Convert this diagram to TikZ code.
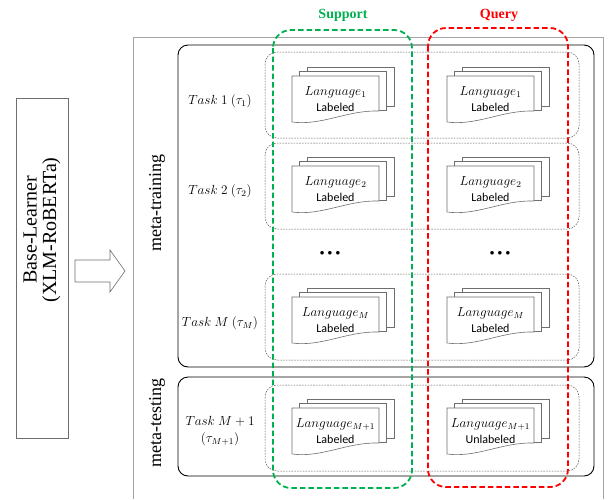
\documentclass[tikz,border=0pt]{standalone}
\usepackage{graphicx}
\usepackage{fontspec}
\setmainfont{Liberation Serif}
\newfontfamily\labfont{Carlito}
\usetikzlibrary{positioning}
\definecolor{supgreen}{RGB}{0,176,80}
\definecolor{qred}{RGB}{255,0,0}
\definecolor{framegray}{RGB}{165,165,165}
\definecolor{docgray}{RGB}{110,110,110}
\newcommand{\mbig}[1]{\scalebox{1.1}{\fontsize{12}{14}\selectfont #1}}
\tikzset{
  frameline/.style={draw=framegray, line width=0.8pt},
  phasebox/.style={draw=black, line width=0.9pt, rounded corners=10pt},
  taskrow/.style={draw=black!65, line width=0.5pt, dash pattern=on 1.6pt off 1.2pt, rounded corners=12pt},
  docline/.style={draw=docgray, line width=0.6pt, fill=white},
  setbox/.style={line width=1.8pt, dash pattern=on 5.5pt off 3pt, rounded corners=18pt},
  tasklabel/.style={align=center},
  langtext/.style={},
  labtext/.style={font=\labfont\fontsize{12}{14}\selectfont},
  phaselabel/.style={font=\fontsize{18}{20}\selectfont, rotate=90},
  setlabel/.style={font=\bfseries\fontsize{14}{16}\selectfont},
}
\newcommand{\docstack}[5]{% #1 name, #2 x, #3 y, #4 subscript, #5 label
  \begin{scope}[shift={(#2,#3)}]
    \draw[docline] (15,-9) rectangle (102,30);
    \draw[docline] (7.5,-4.5) rectangle (94.5,34.5);
    \draw[docline] (0,0) -- (87,0) -- (87,35) .. controls (55,34) and (30,50) .. (0,46) -- cycle;
    \node[langtext] (#1lang) at (43.5,16) {\mbig{$Language_{#4}$}};
    \node[labtext] (#1lab) at (43.5,31) {#5};
  \end{scope}
}
\begin{document}
\begin{tikzpicture}[x=1pt,y=-1pt]
\useasboundingbox (0,0) rectangle (608,499);
% outer frame
\draw[frameline] (133,499) -- (133,37) -- (603,37) -- (603,499);
% base learner
\node[draw=docgray, line width=0.6pt, minimum width=52pt, minimum height=340pt, inner sep=0pt] (base) at (42,268) {};
\node[rotate=90, align=center, font=\fontsize{20}{19.5}\selectfont] (basetext) at (42,230) {Base-Learner\\(XLM-RoBERTa)};
% arrow
\draw[draw=docgray, line width=0.6pt, fill=white] (75,260) -- (110,260) -- (110,250) -- (125,271) -- (110,292) -- (110,282) -- (75,282) -- cycle;
% phase boxes
\draw[phasebox] (178,45) rectangle (594,367);
\draw[phasebox] (178,377) rectangle (594,476);
\node[phaselabel] (mtrain) at (157,203) {meta-training};
\node[phaselabel] (mtest) at (157,423) {meta-testing};
% task rows
\draw[taskrow] (265,52) rectangle (579,138);
\draw[taskrow] (265,143) rectangle (579,229);
\draw[taskrow] (265,274) rectangle (579,360);
\draw[taskrow] (265,385) rectangle (579,471);
% task labels
\node[tasklabel] (t1) at (220,101) {\mbig{$Task\ 1\ (\tau_1)$}};
\node[tasklabel] (t2) at (220,191) {\mbig{$Task\ 2\ (\tau_2)$}};
\node[tasklabel] (tm) at (220,323) {\mbig{$Task\ M\ (\tau_M)$}};
\node[tasklabel] (tm1) at (220,431) {\mbig{$Task\ M+1$}\\[5pt]\mbig{$(\tau_{M+1})$}};
% documents
\docstack{s1}{292}{76}{1}{Labeled}
\docstack{q1}{447}{76}{1}{Labeled}
\docstack{s2}{292}{166}{2}{Labeled}
\docstack{q2}{447}{166}{2}{Labeled}
\docstack{sm}{292}{297}{M}{Labeled}
\docstack{qm}{447}{297}{M}{Labeled}
\docstack{sm1}{292}{408}{M+1}{Labeled}
\docstack{qm1}{447}{408}{M+1}{Unlabeled}
% dots
\node[font=\small] (sdots) at (330,253) {$\bullet\hspace{1.2pt}\bullet\hspace{1.2pt}\bullet$};
\node[font=\small] (qdots) at (500,253) {$\bullet\hspace{1.2pt}\bullet\hspace{1.2pt}\bullet$};
% support / query
\draw[setbox, draw=supgreen] (273,30) rectangle (412,488);
\draw[setbox, draw=qred] (428,28) rectangle (568,487);
\node[setlabel, text=supgreen] (suplab) at (343,15) {Support};
\node[setlabel, text=qred] (qlab) at (499,15) {Query};
\end{tikzpicture}
\end{document}
